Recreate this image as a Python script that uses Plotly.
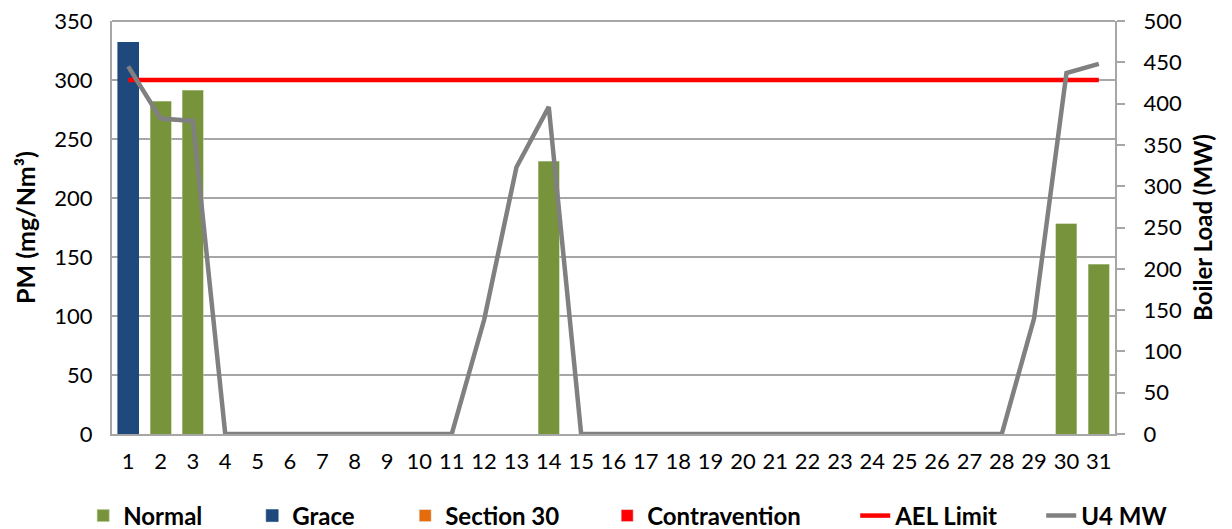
import plotly.graph_objects as go

days = [str(d) for d in range(1, 32)]
normal = [None, 282, 291.5, None, None, None, None, None, None, None, None, None, None, 231,
          None, None, None, None, None, None, None, None, None, None, None, None, None, None,
          None, 178, 144]
grace = [332] + [None] * 30
section30 = [None] * 31
contravention = [None] * 31
ael_limit = [300] * 31
u4_mw = [445, 382, 379, 0, 0, 0, 0, 0, 0, 0, 0, 138, 323, 396, 0, 0, 0, 0, 0, 0, 0, 0,
         0, 0, 0, 0, 0, 0, 140, 437, 448]
left_ticks = [0, 50, 100, 150, 200, 250, 300, 350]
right_ticks = [0, 50, 100, 150, 200, 250, 300, 350, 400, 450, 500]

FONT = "Lato"
GRID = "#A6A6A6"

fig = go.Figure()
fig.add_trace(go.Bar(x=days, y=normal, name="Normal", marker_color="#77933C",
                     marker_line=dict(color="#B7C99A", width=0.6), legendwidth=124))
fig.add_trace(go.Bar(x=days, y=grace, name="Grace", marker_color="#1F497D",
                     marker_line=dict(color="#1F497D", width=0.6), legendwidth=108))
fig.add_trace(go.Bar(x=days, y=section30, name="Section 30", marker_color="#E46C0A",
                     legendwidth=157))
fig.add_trace(go.Bar(x=days, y=contravention, name="Contravention", marker_color="#FF0000",
                     legendwidth=203))
fig.add_trace(go.Scatter(x=days, y=ael_limit, name="AEL Limit", mode="lines",
                         line=dict(color="#FF0000", width=4.5), legendwidth=141))
fig.add_trace(go.Scatter(x=days, y=u4_mw, name="U4 MW", mode="lines", yaxis="y2",
                         line=dict(color="#808080", width=4.5), legendwidth=92))

fig.update_layout(
    width=1224, height=521,
    margin=dict(l=104, r=117, t=13, b=95, autoexpand=False),
    paper_bgcolor="white", plot_bgcolor="white",
    barmode="stack", bargap=0.35,
    font=dict(family=FONT, size=22, color="#000000"),
    showlegend=True,
    legend=dict(orientation="h", x=1.063, xanchor="right", y=-0.1985, yanchor="middle",
                font=dict(family=FONT, size=24, color="#000000", weight="bold"),
                traceorder="normal"),
    xaxis=dict(type="category", showgrid=False, showline=True, linecolor=GRID, linewidth=2,
               ticks="", tickfont=dict(size=22), ticklabelstandoff=7),
    yaxis=dict(range=[0, 350], tickvals=left_ticks, showgrid=True, gridcolor=GRID,
               gridwidth=1.5, showline=True, linecolor=GRID, linewidth=2, ticks="",
               zeroline=False, ticklabelstandoff=13, ticklabeloverflow="allow",
               title=dict(text="<b>PM (mg/Nm³)</b>", font=dict(size=25), standoff=12)),
    yaxis2=dict(range=[0, 500], tickvals=right_ticks, overlaying="y", side="right",
                showgrid=False, showline=True, linecolor=GRID, linewidth=2,
                ticks="outside", ticklen=8, tickcolor=GRID, tickwidth=2, zeroline=False,
                ticklabelstandoff=14, ticklabeloverflow="allow",
                title=dict(text="<b>Boiler Load (MW)</b>", font=dict(size=24), standoff=14)),
)

fig.add_shape(type="line", xref="paper", yref="paper", x0=0, x1=1, y0=1, y1=1,
              line=dict(color=GRID, width=2), layer="below")

fig.write_html("out.html")
